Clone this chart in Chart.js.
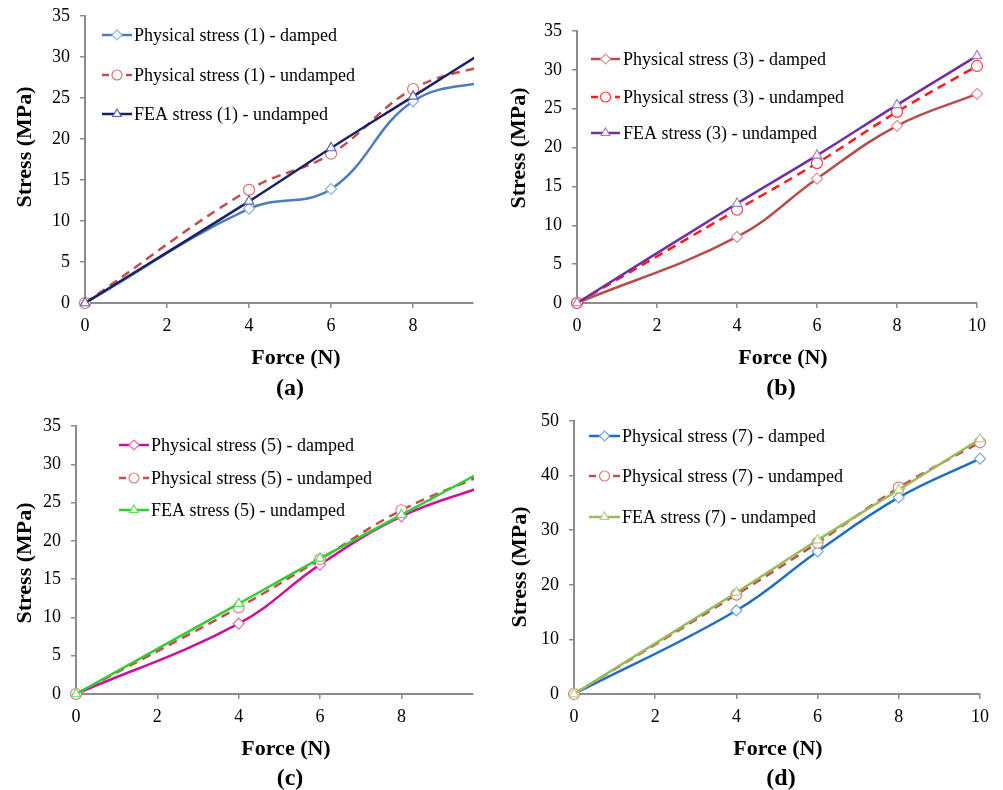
<!DOCTYPE html>
<html>
<head>
<meta charset="utf-8">
<title>Stress versus force</title>
<script src="https://cdn.jsdelivr.net/npm/chart.js@4.4.0/dist/chart.umd.min.js"></script>
<style>
  html, body { margin: 0; padding: 0; background: #fff; }
  #fig { position: relative; width: 1003px; height: 790px; overflow: hidden;
         font-family: "Liberation Serif", "Times New Roman", serif; background: #fff; }
  .panel { position: absolute; }
  .lbl { position: absolute; font-weight: bold; color: #000; white-space: nowrap;
         transform: translate(-50%, -50%); line-height: 1; }
  .xt { font-size: 22px; }
  .yt { font-size: 22px; transform: translate(-50%, -50%) rotate(-90deg); }
  .cap { font-size: 24px; }
</style>
</head>
<body>
<div id="fig">
  <div class="panel" style="left:0;top:0;width:500px;height:400px"><canvas id="cA"></canvas></div>
  <div class="panel" style="left:500px;top:0;width:503px;height:400px"><canvas id="cB"></canvas></div>
  <div class="panel" style="left:0;top:400px;width:500px;height:390px"><canvas id="cC"></canvas></div>
  <div class="panel" style="left:500px;top:400px;width:503px;height:390px"><canvas id="cD"></canvas></div>

  <div class="lbl yt" style="left:24px;top:147px">Stress (MPa)</div>
  <div class="lbl xt" style="left:296px;top:357px">Force (N)</div>
  <div class="lbl cap" style="left:290px;top:387px">(a)</div>

  <div class="lbl yt" style="left:518px;top:148px">Stress (MPa)</div>
  <div class="lbl xt" style="left:783px;top:357px">Force (N)</div>
  <div class="lbl cap" style="left:781px;top:387px">(b)</div>

  <div class="lbl yt" style="left:24px;top:563px">Stress (MPa)</div>
  <div class="lbl xt" style="left:286px;top:748px">Force (N)</div>
  <div class="lbl cap" style="left:290px;top:777px">(c)</div>

  <div class="lbl yt" style="left:519px;top:567px">Stress (MPa)</div>
  <div class="lbl xt" style="left:778px;top:748px">Force (N)</div>
  <div class="lbl cap" style="left:781px;top:777px">(d)</div>
</div>

<script>
// Applied force (N) at each measurement
const force = [0, 4, 6, 8, 10];

// (a) stress at location 1, MPa
const dampedA   = [0, 11.5, 13.9, 24.6, 27.2];
const undampedA = [0, 13.8, 18.2, 26.1, 29.3];
const feaA      = [0, 12.4, 18.9, 25.2, 31.5];

// (b) stress at location 3, MPa
const dampedB   = [0, 8.5, 16.0, 22.8, 26.9];
const undampedB = [0, 12.0, 18.0, 24.6, 30.5];
const feaB      = [0, 12.8, 19.0, 25.5, 31.8];

// (c) stress at location 5, MPa
const dampedC   = [0, 9.2, 16.9, 23.2, 27.1];
const undampedC = [0, 11.3, 17.6, 24.0, 28.6];
const feaC      = [0, 11.8, 17.7, 23.4, 29.1];

// (d) stress at location 7, MPa
const dampedD   = [0, 15.3, 26.1, 36.0, 43.1];
const undampedD = [0, 18.2, 27.7, 37.8, 46.1];
const feaD      = [0, 18.6, 28.2, 37.4, 46.7];

// Series labels
const labelsA = ['Physical stress (1) - damped', 'Physical stress (1) - undamped', 'FEA stress (1) - undamped'];
const labelsB = ['Physical stress (3) - damped', 'Physical stress (3) - undamped', 'FEA stress (3) - undamped'];
const labelsC = ['Physical stress (5) - damped', 'Physical stress (5) - undamped', 'FEA stress (5) - undamped'];
const labelsD = ['Physical stress (7) - damped', 'Physical stress (7) - undamped', 'FEA stress (7) - undamped'];

const FONT = '"Liberation Serif", "Times New Roman", serif';
const AXIS_GREY = '#8c8c8c';

function pairs(xs, ys) { return xs.map((x, i) => ({ x: x, y: ys[i] })); }

function series(label, ys, line, marker, style, dashed, order, clipRight) {
  return {
    label: label,
    data: pairs(force, ys),
    borderColor: line,
    backgroundColor: line,
    borderWidth: 2.5,
    borderDash: dashed ? [9, 6] : [],
    tension: 0.4,
    pointStyle: style,
    pointRadius: 5.5,
    pointBorderWidth: 1.2,
    pointBorderColor: marker,
    pointBackgroundColor: '#ffffff',
    // markers may spill over the axes; on truncated axes the lines stop at the edge
    clip: { left: 10, bottom: 10, top: 10, right: clipRight },
    order: order
  };
}

// Legend drawn inside the plot, one row per series
const inlineLegend = {
  id: 'inlineLegend',
  afterDraw(chart, args, opts) {
    const ctx = chart.ctx;
    chart.data.datasets.forEach((ds, i) => {
      const y = opts.rows[i];
      ctx.save();
      ctx.strokeStyle = ds.borderColor;
      ctx.lineWidth = ds.borderWidth;
      ctx.setLineDash(ds.borderDash && ds.borderDash.length ? [7, 5] : []);
      ctx.beginPath();
      ctx.moveTo(opts.x0, y);
      ctx.lineTo(opts.x1, y);
      ctx.stroke();
      ctx.setLineDash([]);
      ctx.fillStyle = '#ffffff';
      ctx.strokeStyle = ds.pointBorderColor;
      ctx.lineWidth = ds.pointBorderWidth;
      Chart.helpers.drawPoint(ctx, {
        pointStyle: ds.pointStyle, radius: 5,
        borderWidth: ds.pointBorderWidth, rotation: 0
      }, (opts.x0 + opts.x1) / 2, y);
      ctx.fillStyle = '#000';
      ctx.font = '18px ' + FONT;
      ctx.textBaseline = 'middle';
      ctx.textAlign = 'left';
      ctx.fillText(ds.label, opts.tx, y + 1);
      ctx.restore();
    });
  }
};

function makeChart(id, datasets, p) {
  const el = document.getElementById(id);
  const W = el.parentNode.clientWidth, H = el.parentNode.clientHeight;
  return new Chart(el, {
    type: 'line',
    data: { datasets: datasets },
    plugins: [inlineLegend],
    options: {
      responsive: true,
      maintainAspectRatio: false,
      animation: false,
      events: [],
      layout: { padding: { left: 0, top: p.top, right: W - p.right, bottom: 0 } },
      plugins: {
        legend: { display: false },
        tooltip: { enabled: false },
        inlineLegend: p.legend
      },
      scales: {
        x: {
          type: 'linear', min: 0, max: p.xMax,
          ticks: { stepSize: 2, includeBounds: false, color: '#000', padding: 7, maxRotation: 0,
                   font: { family: FONT, size: 18 } },
          grid: { display: true, drawOnChartArea: false, drawTicks: true, tickLength: 5,
                  color: AXIS_GREY, lineWidth: 1.5 },
          border: { display: true, color: AXIS_GREY, width: 2 },
          afterFit(s) { s.height = H - p.bottom; s.paddingLeft = 0; s.paddingRight = 0; }
        },
        y: {
          type: 'linear', min: 0, max: p.yMax,
          ticks: { stepSize: p.yStep, color: '#000', padding: 10,
                   font: { family: FONT, size: 18 } },
          grid: { display: true, drawOnChartArea: false, drawTicks: true, tickLength: 5,
                  color: AXIS_GREY, lineWidth: 1.5 },
          border: { display: true, color: AXIS_GREY, width: 2 },
          afterFit(s) { s.width = p.left; s.paddingTop = 0; s.paddingBottom = 0; }
        }
      }
    }
  });
}

makeChart('cA', [
  series(labelsA[0], dampedA,   '#4a7ebb', '#8db3e2', 'rectRot',  false, 3, 1),
  series(labelsA[1], undampedA, '#c0504d', '#e0706c', 'circle',   true,  2, 1),
  series(labelsA[2], feaA,      '#1a2266', '#5a66b0', 'triangle', false, 1, 1)
], { left: 85, top: 16, right: 473, bottom: 303, xMax: 9.46, yMax: 35, yStep: 5,
     legend: { x0: 102, x1: 132, tx: 134, rows: [35, 75, 114] } });

makeChart('cB', [
  series(labelsB[0], dampedB,   '#b54e4b', '#d99594', 'rectRot',  false, 3, 10),
  series(labelsB[1], undampedB, '#ff1a1a', '#ff3b3b', 'circle',   true,  2, 10),
  series(labelsB[2], feaB,      '#7030a0', '#a37fd0', 'triangle', false, 1, 10)
], { left: 77, top: 31, right: 477, bottom: 303, xMax: 10, yMax: 35, yStep: 5,
     legend: { x0: 91, x1: 120, tx: 123, rows: [59, 97, 133] } });

makeChart('cC', [
  series(labelsC[0], dampedC,   '#cc1199', '#e066c2', 'rectRot',  false, 3, 1),
  series(labelsC[1], undampedC, '#c0504d', '#d9817e', 'circle',   true,  2, 1),
  series(labelsC[2], feaC,      '#33cc33', '#5fdd5f', 'triangle', false, 1, 1)
], { left: 76, top: 26, right: 473, bottom: 294, xMax: 9.76, yMax: 35, yStep: 5,
     legend: { x0: 119, x1: 149, tx: 151, rows: [45, 78, 110] } });

makeChart('cD', [
  series(labelsD[0], dampedD,   '#1f6fc0', '#72a8e0', 'rectRot',  false, 3, 10),
  series(labelsD[1], undampedD, '#c0504d', '#d9817e', 'circle',   true,  2, 10),
  series(labelsD[2], feaD,      '#9bbb59', '#b5cf86', 'triangle', false, 1, 10)
], { left: 74, top: 21, right: 480, bottom: 294, xMax: 10, yMax: 50, yStep: 10,
     legend: { x0: 89, x1: 120, tx: 122, rows: [436, 476, 517].map(v => v - 400) } });
</script>
</body>
</html>
